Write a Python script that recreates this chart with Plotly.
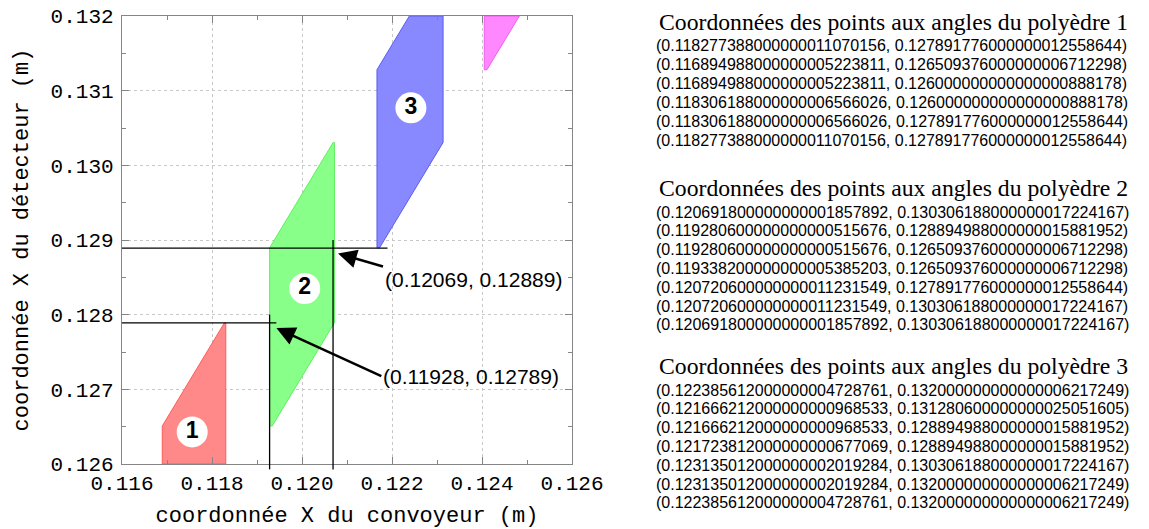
import plotly.graph_objects as go

# corner points of the polyhedra, exactly as printed on the right of the figure
poly1_x = ["0.118277388000000011070156", "0.116894988000000005223811", "0.116894988000000005223811",
           "0.118306188000000006566026", "0.118306188000000006566026", "0.118277388000000011070156"]
poly1_y = ["0.127891776000000012558644", "0.126509376000000006712298", "0.126000000000000000888178",
           "0.126000000000000000888178", "0.127891776000000012558644", "0.127891776000000012558644"]

poly2_x = ["0.120691800000000001857892", "0.119280600000000000515676", "0.119280600000000000515676",
           "0.119338200000000005385203", "0.120720600000000011231549", "0.120720600000000011231549",
           "0.120691800000000001857892"]
poly2_y = ["0.130306188000000017224167", "0.128894988000000015881952", "0.126509376000000006712298",
           "0.126509376000000006712298", "0.127891776000000012558644", "0.130306188000000017224167",
           "0.130306188000000017224167"]

poly3_x = ["0.122385612000000004728761", "0.121666212000000000968533", "0.121666212000000000968533",
           "0.121723812000000000677069", "0.123135012000000002019284", "0.123135012000000002019284",
           "0.122385612000000004728761"]
poly3_y = ["0.132000000000000006217249", "0.131280600000000025051605", "0.128894988000000015881952",
           "0.128894988000000015881952", "0.130306188000000017224167", "0.132000000000000006217249",
           "0.132000000000000006217249"]

# 4th polyhedron, only a corner is visible
poly4_x = [0.12405, 0.12405, 0.12411, 0.12483, 0.12405]
poly4_y = [0.132, 0.13128, 0.13128, 0.132, 0.132]

# numbered labels
label_x = [0.11756, 0.12006, 0.12242]
label_y = [0.12643, 0.12835, 0.13077]
label_txt = ["1", "2", "3"]

# reference points (corner lines + arrows)
ref_x = [0.11928, 0.12069]
ref_y = [0.12789, 0.12889]
hline_end = [0.11943, 0.12190]
vline_top = [0.12800, 0.12900]
tip_x = [0.11943, 0.12080]
tip_y = [0.12782, 0.12882]
arrow_txt = ["(0.11928, 0.12789)", "(0.12069, 0.12889)"]

# axes
x_ticks = [0.116, 0.118, 0.120, 0.122, 0.124, 0.126]
y_ticks = [0.126, 0.127, 0.128, 0.129, 0.130, 0.131, 0.132]
xrange_ = [0.116, 0.126]
yrange_ = [0.126, 0.132]

num = lambda v: [float(s) for s in v]
polys = [(num(poly1_x), num(poly1_y), "#ff8888", "#ff5c5c"),
         (num(poly2_x), num(poly2_y), "#88ff88", "#5cf05c"),
         (num(poly3_x), num(poly3_y), "#8888ff", "#5c5cf0"),
         (poly4_x, poly4_y, "#ff88ff", "#f05cf0")]

W, H = 1149, 529
ML, MT = 122, 16
MR, MB = W - 572, H - 464
PW, PH = W - ML - MR, H - MT - MB


def paper_x(px):
    return (px - ML) / PW


def paper_y(py):
    return (H - MB - py) / PH


fig = go.Figure()

for xs, ys, fc, lc in polys:
    fig.add_trace(go.Scatter(x=xs, y=ys, mode="lines", fill="toself", fillcolor=fc,
                             line=dict(color=lc, width=1), hoverinfo="skip"))

for i in range(2):
    fig.add_shape(type="line", xref="x", yref="y", x0=xrange_[0], x1=hline_end[i],
                  y0=ref_y[i], y1=ref_y[i], line=dict(color="black", width=1.3))
    fig.add_shape(type="line", xref="x", yref="paper", x0=ref_x[i], x1=ref_x[i],
                  y0=-0.012, y1=(vline_top[i] - yrange_[0]) / (yrange_[1] - yrange_[0]),
                  line=dict(color="black", width=1.3))

fig.add_trace(go.Scatter(x=label_x, y=label_y, mode="markers+text", text=label_txt,
                         textposition="middle center",
                         textfont=dict(family="Liberation Sans", size=23, color="black", weight="bold"),
                         marker=dict(size=31, color="white", line=dict(width=0)),
                         hoverinfo="skip"))

arrow_off = [(105, 48, "middle"), (45, 13, "top")]
for i in range(2):
    ax, ay, ya = arrow_off[i]
    fig.add_annotation(x=tip_x[i], y=tip_y[i], xref="x", yref="y", text=arrow_txt[i],
                       showarrow=True, ax=ax, ay=ay, xanchor="left", yanchor=ya,
                       arrowhead=2, arrowsize=1.5, arrowwidth=2.5, arrowcolor="black",
                       font=dict(family="Liberation Sans", size=21, color="black"))

# corner lists on the right
blocks = [("Coordonnées des points aux angles du polyèdre 1", poly1_x, poly1_y, 22),
          ("Coordonnées des points aux angles du polyèdre 2", poly2_x, poly2_y, 188),
          ("Coordonnées des points aux angles du polyèdre 3", poly3_x, poly3_y, 366)]
for title, xs, ys, ty in blocks:
    fig.add_annotation(xref="paper", yref="paper", x=paper_x(657), y=paper_y(ty),
                       text=title, showarrow=False, xanchor="left", yanchor="middle",
                       font=dict(family="Liberation Serif", size=23.7, color="black"))
    for k, (a, b) in enumerate(zip(xs, ys)):
        fig.add_annotation(xref="paper", yref="paper", x=paper_x(654),
                           y=paper_y(ty + 24 + 18.8 * k),
                           text=f"({a}, {b})", showarrow=False,
                           xanchor="left", yanchor="middle",
                           font=dict(family="Liberation Sans", size=16, color="black"))

axis_common = dict(
    showline=True, linecolor="#858585", linewidth=1.4, mirror="ticks",
    ticks="inside", ticklen=7, tickcolor="#858585", tickwidth=1,
    showgrid=True, gridcolor="#c8c8c8", griddash="dot", gridwidth=1,
    zeroline=False, ticklabeloverflow="allow",
    tickfont=dict(family="Liberation Mono", size=21, color="black"),
    title_font=dict(family="Liberation Mono", size=22, color="black"),
)

fig.update_xaxes(range=xrange_, tickvals=x_ticks, ticktext=[f"{v:.3f}" for v in x_ticks],
                 minor=dict(dtick=0.001, tick0=0.116, ticks="inside", ticklen=4,
                            tickcolor="#858585", showgrid=False),
                 title_text="coordonnée X du convoyeur (m)", title_standoff=12, **axis_common)
fig.update_yaxes(range=yrange_, tickvals=y_ticks, ticktext=[f"{v:.3f}" for v in y_ticks],
                 ticklabelstandoff=3,
                 minor=dict(dtick=0.0005, tick0=0.126, ticks="inside", ticklen=4,
                            tickcolor="#858585", showgrid=False),
                 title_text="coordonnée X du détecteur (m)", title_standoff=15, **axis_common)

fig.update_layout(width=W, height=H, showlegend=False,
                  margin=dict(l=ML, r=MR, t=MT, b=MB, autoexpand=False),
                  plot_bgcolor="white", paper_bgcolor="white")

# drop the default 8px page margin so the figure sits at the window corner
fig.write_html("out.html", config={"displayModeBar": False},
               post_script="document.body.style.margin = '0';")
